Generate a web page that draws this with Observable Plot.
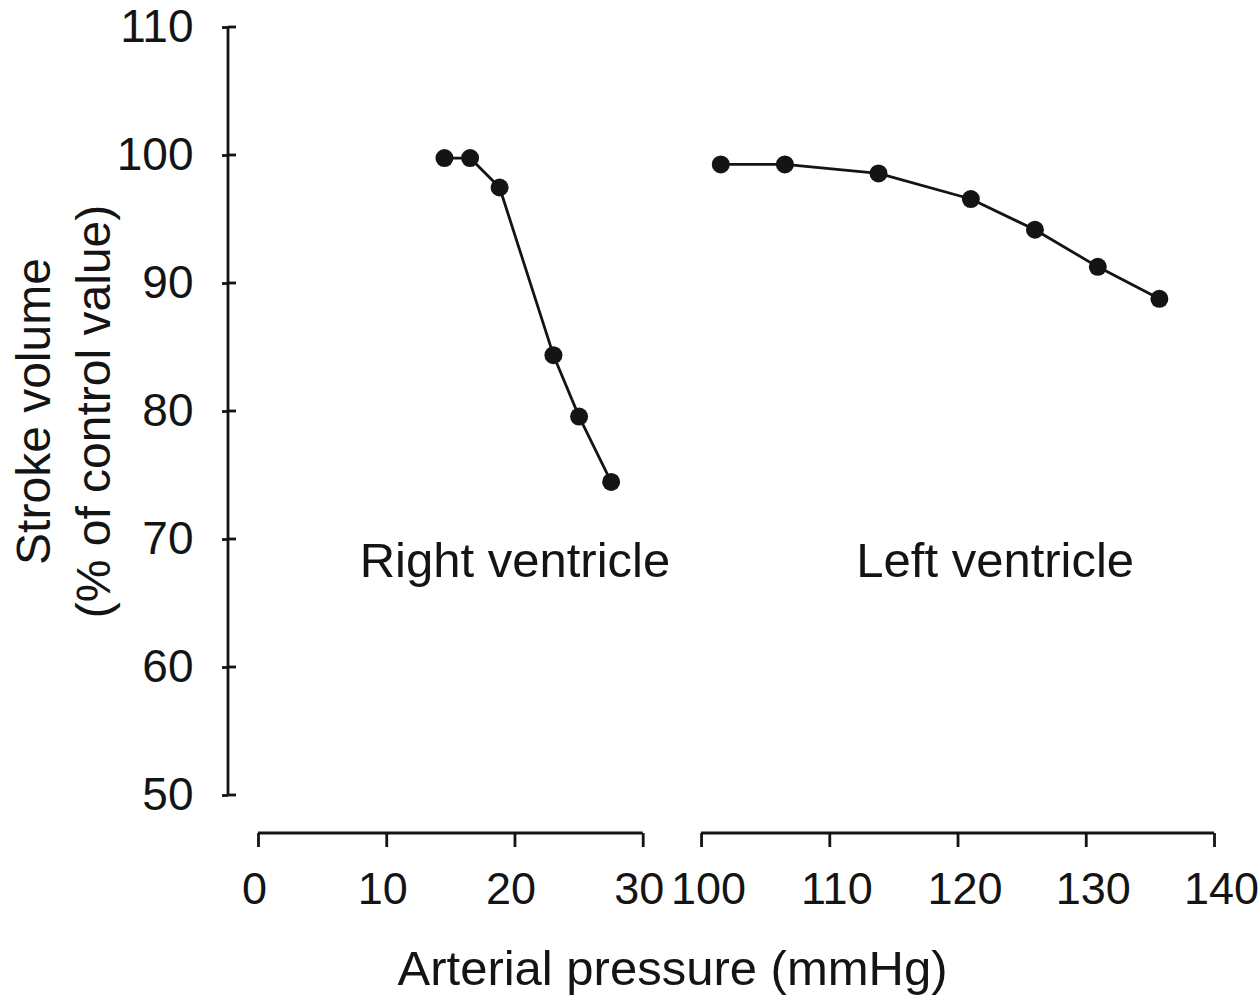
<!DOCTYPE html>
<html>
<head>
<meta charset="utf-8">
<script src="https://cdn.jsdelivr.net/npm/d3@7"></script>
<script src="https://cdn.jsdelivr.net/npm/@observablehq/plot@0.6"></script>
<style>
  html, body { margin: 0; padding: 0; background: #fff; }
</style>
</head>
<body>
<div id="chart"></div>
<script>
// ---- data ----
const seriesNames = ["Right ventricle", "Left ventricle"];
const rightPressure = [14.5, 16.5, 18.8, 23.0, 25.0, 27.5];
const rightStroke   = [99.8, 99.8, 97.5, 84.4, 79.6, 74.5];
const leftPressure  = [101.5, 106.5, 113.8, 121.0, 126.0, 130.9, 135.7];
const leftStroke    = [99.3, 99.3, 98.6, 96.6, 94.2, 91.3, 88.8];

const xLeftDomain  = [0, 30];
const xRightDomain = [100, 140];
const xLeftTicks   = [0, 10, 20, 30];
const xRightTicks  = [100, 110, 120, 130, 140];
const yDomain = [50, 110];
const yTicks  = [50, 60, 70, 80, 90, 100, 110];

// series label placement (data units)
const labelPressure = [20, 122.9];
const labelStroke   = [68.3, 68.3];

const xLabel = "Arterial pressure (mmHg)";
const yLabel = ["Stroke volume", "(% of control value)"];

// ---- broken x axis helpers ----
const gap = 4.55; // width of the axis break, in axis units
const bx = v => v >= xRightDomain[0] ? v - xRightDomain[0] + xLeftDomain[1] + gap : v;
const ubx = u => u > xLeftDomain[1] + gap / 2 ? u - xLeftDomain[1] - gap + xRightDomain[0] : u;

const points = [
  ...rightPressure.map((p, i) => ({series: seriesNames[0], x: bx(p), y: rightStroke[i]})),
  ...leftPressure.map((p, i) => ({series: seriesNames[1], x: bx(p), y: leftStroke[i]}))
];
const labels = seriesNames.map((s, i) => ({text: s, x: bx(labelPressure[i]), y: labelStroke[i]}));

const ink = "#141414";
const sw = 2.8;
const tickFont = 45;
const textFont = 49;

// axis lines (y axis line with inward stubs, two x axis segments) drawn through Plot's scales
function axisLines(index, scales, values, dims) {
  const g = d3.create("svg:g")
    .attr("stroke", ink).attr("stroke-width", sw).attr("fill", "none");
  const xl = dims.marginLeft;
  g.append("line")
    .attr("x1", xl).attr("x2", xl)
    .attr("y1", scales.y(yDomain[0])).attr("y2", scales.y(yDomain[1]));
  for (const t of yTicks) {
    g.append("line")
      .attr("x1", xl).attr("x2", xl + 8)
      .attr("y1", scales.y(t)).attr("y2", scales.y(t));
  }
  const yb = dims.height - dims.marginBottom;
  for (const dom of [xLeftDomain, xRightDomain]) {
    g.append("line")
      .attr("x1", scales.x(bx(dom[0]))).attr("x2", scales.x(bx(dom[1])))
      .attr("y1", yb).attr("y2", yb);
  }
  return g.node();
}

const xTextCommon = {
  tickSize: 0, tickPadding: 39, fontSize: tickFont,
  tickFormat: d => String(Math.round(ubx(d))), label: null
};

const chart = Plot.plot({
  width: 1259,
  height: 1003,
  marginLeft: 228,
  marginTop: 27,
  marginRight: 45,
  marginBottom: 170,
  style: {
    fontFamily: "'Liberation Sans', Arial, sans-serif",
    fontSize: "48px",
    color: ink,
    background: "#fff"
  },
  x: {type: "linear", domain: [bx(xLeftDomain[0]), bx(xRightDomain[1])], insetLeft: 30},
  y: {type: "linear", domain: yDomain, insetBottom: 38},
  marks: [
    axisLines,
    Plot.axisY(yTicks, {
      tickSize: 6, tickPadding: 29, strokeWidth: sw, fontSize: 46,
      tickFormat: d => String(d), label: null
    }),
    // x tick marks (no text)
    Plot.axisX([...xLeftTicks, ...xRightTicks].map(bx), {
      tickSize: 14, strokeWidth: sw, tickFormat: () => "", label: null
    }),
    // x tick labels
    Plot.axisX(xLeftTicks.map(bx), {...xTextCommon, dx: -4}),
    Plot.axisX(xRightTicks.map(bx), {...xTextCommon, dx: 7}),
    Plot.line(points, {x: "x", y: "y", z: "series", stroke: ink, strokeWidth: sw}),
    Plot.dot(points, {x: "x", y: "y", r: 9, fill: ink, stroke: "none"}),
    Plot.text(labels, {x: "x", y: "y", text: "text", lineAnchor: "middle", fill: ink, fontSize: textFont}),
    Plot.text([xLabel], {
      text: d => d, frameAnchor: "bottom", dx: -49, dy: 136,
      lineAnchor: "middle", fill: ink, fontSize: textFont
    }),
    Plot.text([yLabel.join("\n")], {
      text: d => d, y: () => (yDomain[0] + yDomain[1]) / 2,
      frameAnchor: "left", rotate: -90, dx: -168,
      textAnchor: "middle", lineAnchor: "middle", lineHeight: 1.27,
      fill: ink, fontSize: 48
    })
  ]
});

document.getElementById("chart").appendChild(chart);
</script>
</body>
</html>
